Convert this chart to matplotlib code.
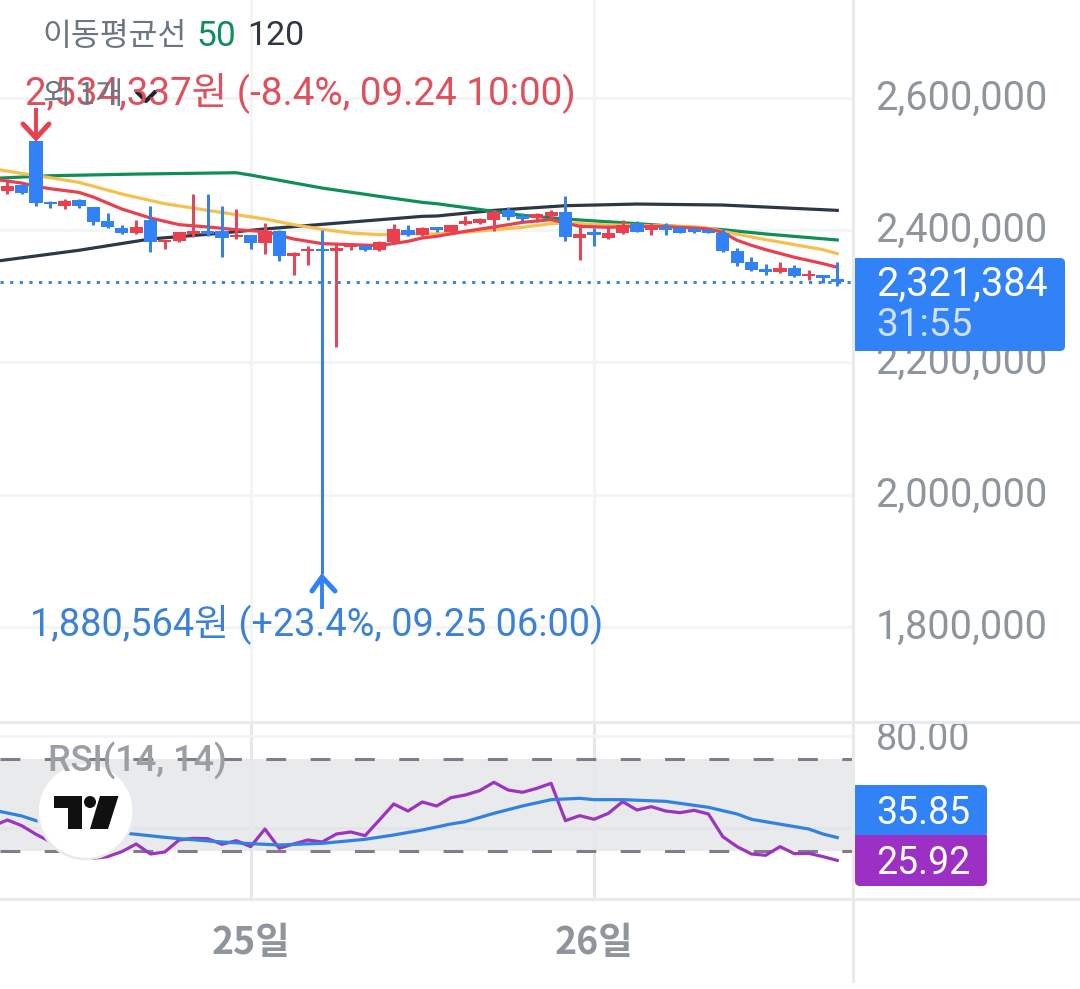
import matplotlib
matplotlib.use('Agg')
import matplotlib.pyplot as plt
from matplotlib.patches import Circle, FancyBboxPatch, Polygon, Rectangle
from matplotlib.transforms import ScaledTranslation

plt.rcParams['font.family'] = ['Roboto', 'Noto Sans CJK KR', 'DejaVu Sans']

first_idx = -2
opens = [2459640, 2467689, 2534337, 2443037, 2437000, 2445050, 2434988, 2413858, 2403796, 2395243,
         2415870, 2381659, 2383168, 2394740, 2398765, 2398765, 2389709, 2392224, 2380150, 2398261,
         2360529, 2368075, 2372100, 2368075, 2374616, 2376628, 2369585, 2381659, 2400777, 2392224,
         2404790, 2397746, 2408815, 2410324, 2414852, 2429945, 2420889, 2418877, 2420889, 2427429,
         2388691, 2396740, 2388187, 2395231, 2409318, 2399759, 2404790, 2402777, 2402274, 2400765,
         2395734, 2368063, 2352467, 2341399, 2336368, 2342908, 2330331, 2331840, 2326306]
closes = [2467186, 2455615, 2440522, 2439013, 2444547, 2435994, 2412348, 2404299, 2395243, 2404802,
          2382162, 2385684, 2397255, 2398765, 2394740, 2387696, 2392727, 2380150, 2398261, 2360529,
          2365560, 2372100, 2368075, 2373106, 2379647, 2369585, 2381659, 2401783, 2392224, 2403292,
          2400765, 2407808, 2413342, 2416864, 2427932, 2419883, 2416864, 2423908, 2426926, 2389194,
          2394225, 2393218, 2395734, 2408311, 2397746, 2404790, 2400765, 2395734, 2396740, 2395734,
          2368063, 2349952, 2339387, 2336368, 2343412, 2330331, 2333853, 2327815, 2321384]
highs = [2473726, 2469702, 2534337, 2444547, 2447565, 2447062, 2434988, 2426435, 2408323, 2415870,
         2437000, 2385684, 2397758, 2455112, 2455112, 2437000, 2432472, 2393230, 2411342, 2400777,
         2367069, 2375622, 2400777, 2379647, 2380653, 2377634, 2383672, 2409330, 2408323, 2404299,
         2405293, 2408311, 2420889, 2418373, 2430951, 2434976, 2425920, 2425920, 2430951, 2452081,
         2405796, 2403280, 2408311, 2415858, 2414349, 2410827, 2410827, 2405796, 2404790, 2402274,
         2401771, 2373094, 2359511, 2348946, 2352467, 2347939, 2340393, 2332846, 2352467]
lows = [2455112, 2455112, 2435994, 2433982, 2432472, 2433982, 2408323, 2403796, 2394740, 2394740,
        2367572, 2372100, 2381659, 2389709, 2390715, 2360026, 2386187, 2372100, 2364554, 2353989,
        2332858, 2347951, 1880564, 2222680, 2369585, 2369082, 2368075, 2380653, 2391721, 2391721,
        2396740, 2397243, 2408311, 2408815, 2398249, 2414852, 2413846, 2412839, 2418373, 2383156,
        2355486, 2375610, 2387181, 2394728, 2396740, 2393218, 2392212, 2395231, 2396237, 2395231,
        2367560, 2346430, 2338884, 2332846, 2335362, 2328822, 2324294, 2320269, 2315238]

ma_red_x = [-3, -1, 0, 1, 3, 4, 6, 8, 10, 12, 14, 16, 18, 20, 22, 24, 26, 27,
            28, 30, 32, 34, 36, 37, 38, 40, 42, 44, 46, 47, 48, 49, 50, 51, 53, 55, 56]
ma_red = [2477248, 2471211, 2466180, 2462658, 2457124, 2450081, 2431969, 2418385, 2408323, 2404802,
          2400777, 2397758, 2386690, 2379647, 2378137, 2376628, 2383168, 2388200,
          2390703, 2398249, 2404790, 2411833, 2415858, 2410827, 2405796, 2404287, 2405796, 2405293,
          2403280, 2401771, 2396740, 2384666, 2377119, 2370579, 2359008, 2349449, 2343915]
ma_yellow_x = [-3, -1, 1, 3, 6, 9, 12, 14, 16, 18, 20, 22, 24, 26,
               28, 30, 32, 34, 36, 37, 38, 40, 42, 44, 46, 47, 48, 50, 51, 53, 55, 56]
ma_yellow = [2492844, 2485801, 2479261, 2472217, 2454609, 2440019, 2429957, 2423416, 2416876, 2408323,
             2401280, 2395746, 2393230, 2394740,
             2394225, 2396740, 2400765, 2404287, 2409821, 2410827, 2409821, 2407808, 2407305, 2406299,
             2405293, 2402777, 2398249, 2389697, 2385672, 2378125, 2370579, 2364542]
ma50_x = [-3, 1, 7, 14, 15, 20, 24, 27, 28, 32, 34, 37, 42, 48, 51, 56]
ma50 = [2478254, 2482279, 2484795, 2486807, 2483285, 2463664, 2451087, 2442031,
        2440007, 2428435, 2422398, 2416864, 2409821, 2400765, 2394225, 2385169]
ma120_x = [-3, 3, 8, 12, 16, 20, 27, 28, 32, 37, 42, 48, 51, 56]
ma120 = [2352479, 2369585, 2386690, 2393734, 2401783, 2408827, 2420901,
         2421392, 2429945, 2436988, 2439504, 2437994, 2434976, 2429945]

rsi_x = list(range(-3, 57))
rsi = [40.90, 43.49, 41.02, 37.26, 34.07, 30.45, 28.27, 26.82, 27.55, 29.72,
       33.05, 28.71, 29.58, 34.79, 35.52, 35.37, 32.91, 34.50, 31.90, 39.57,
       31.17, 33.05, 34.79, 33.92, 37.40, 38.27, 36.68, 43.49, 50.44, 47.40,
       51.31, 49.57, 53.19, 54.35, 56.24, 59.86, 56.53, 55.51, 57.25, 59.43,
       43.20, 45.37, 43.78, 46.38, 51.46, 47.83, 49.28, 47.40, 46.67, 47.69,
       46.09, 36.24, 31.90, 28.71, 28.13, 31.90, 28.85, 29.00, 27.55, 25.92]
sig_x = [-3, -1, 0, 3, 7, 9, 10, 13, 15, 17, 20, 23, 25, 27, 29, 30, 32, 34, 36, 38, 39, 41,
         44, 47, 49, 50, 54, 55, 56]
sig = [47.83, 45.23, 43.20, 39.86, 37.26, 35.95, 35.37, 33.92, 33.20, 32.62, 33.34, 35.08, 36.97,
       39.14, 41.75, 42.76, 46.38, 49.57, 52.33, 52.91, 52.33, 52.33, 51.60, 48.99, 46.09, 43.78,
       39.57, 37.40, 35.85]

price_ticks = [1800000, 2000000, 2200000, 2400000, 2600000]
rsi_ticks = [80, 40]
day_ticks = [15, 39]
day_labels = ['25일', '26일']
last_price = 2321384

RED = '#e8404f'
BLUE = '#3182f6'
GRID = '#f3f4f6'
SEP = '#e8eaec'
AXTXT = '#8f959d'
KR = ['Noto Sans CJK KR', 'DejaVu Sans']

W, H = 1080, 989
fig = plt.figure(figsize=(W / 100, H / 100), dpi=100)
ax1 = fig.add_axes([0, 1 - 722 / H, 853 / W, 722 / H])
ax2 = fig.add_axes([0, 1 - 898 / H, 853 / W, 176 / H])
xlim = (-2.517, 57.1)

# price panel
ax1.set_xlim(*xlim)
ax1.set_ylim(1656600, 2747900)
for p in price_ticks:
    ax1.axhline(p, color=GRID, lw=2.2, zorder=1)
for d in day_ticks:
    ax1.axvline(d, color=GRID, lw=2.2, zorder=1)
ax1.plot(ma120_x, ma120, color='#2e3746', lw=2.3, zorder=2)
ax1.plot(ma50_x, ma50, color='#0e8f5a', lw=2.3, zorder=2)
ax1.plot(ma_yellow_x, ma_yellow, color='#f6c04e', lw=2.3, zorder=2)
ax1.plot(ma_red_x, ma_red, color=RED, lw=2.3, zorder=2)
ax1.axhline(last_price, color='#3b82d6', lw=2.1, ls=(0, (1.1, 2.2)), zorder=2)
for n in range(len(opens)):
    x = first_idx + n
    col = RED if closes[n] >= opens[n] else BLUE
    wick = '#dc4a5c' if col == RED else '#3a80dc'
    ax1.vlines(x, lows[n], highs[n], color=wick, lw=2.2, zorder=3)
    ax1.bar(x, abs(closes[n] - opens[n]), bottom=min(opens[n], closes[n]), width=0.92,
            color=col, zorder=4)
ax1.yaxis.tick_right()
ax1.set_yticks(price_ticks)
ax1.set_yticklabels([f'{p:,}' for p in price_ticks])
ax1.set_xticks([])
ax1.tick_params(axis='y', length=0, pad=17, labelsize=28.5, labelcolor=AXTXT)
for s in ax1.spines.values():
    s.set_visible(False)
up3 = ScaledTranslation(-1 / 100, 4 / 100, fig.dpi_scale_trans)
for lab in ax1.get_yticklabels():
    lab.set_transform(lab.get_transform() + up3)

# rsi panel
ax2.set_xlim(*xlim)
ax2.set_ylim(9.57, 86.09)
ax2.axhspan(30, 70, color='#e9eaec', lw=0, zorder=1)
for r in rsi_ticks:
    ax2.axhline(r, color='#e2e4e7', lw=2, zorder=1.5)
ax2.axhline(80, color=GRID, lw=2.2, zorder=2)
for d in day_ticks:
    ax2.axvline(d, color='#e6e7ea', lw=2.2, zorder=1.5)
for r in [30, 70]:
    ax2.axhline(r, color='#7d7e87', lw=2.2, ls=(0, (6.5, 8)), zorder=2)
ax2.plot(rsi_x, rsi, color='#9c34bf', lw=2.3, zorder=3)
ax2.plot(sig_x, sig, color='#3182e0', lw=2.3, zorder=3)
ax2.yaxis.tick_right()
ax2.set_yticks([80])
ax2.set_yticklabels(['80.00'])
ax2.tick_params(axis='y', length=0, pad=17, labelsize=27, labelcolor=AXTXT)
for lab in ax2.get_yticklabels():
    lab.set_transform(lab.get_transform() + ScaledTranslation(-1 / 100, 1 / 100, fig.dpi_scale_trans))
ax2.set_xticks(day_ticks)
ax2.set_xticklabels(day_labels, family=KR, fontweight='bold', fontsize=27, color=AXTXT)
ax2.tick_params(axis='x', length=0, pad=18)
for s in ax2.spines.values():
    s.set_visible(False)

# overlay in pixels for the chart's chrome
ov = fig.add_axes([0, 0, 1, 1], zorder=10)
ov.set_xlim(0, W)
ov.set_ylim(H, 0)
ov.axis('off')

ov.plot([0, W], [722, 722], color=SEP, lw=2.2)
ov.plot([0, W], [898.5, 898.5], color=SEP, lw=2.2)
ov.plot([853, 853], [0, 981], color=SEP, lw=2.2)

# high / low markers and their notes
ov.text(25, 93, '2,534,337원 (-8.4%, 09.24 10:00)', color='#e0505c', fontsize=27.8, va='center',
        family=['Roboto'] + KR)
ov.add_patch(Rectangle((38, 72), 122, 40, color='white', alpha=0.62, lw=0))
ov.text(43, 96, '외 1개', color='#6b7682', fontsize=22, va='center', family=KR)
ov.plot([137, 146, 155], [92, 101, 92], color='#1f2530', lw=3, solid_capstyle='round')
ov.plot([36, 36], [110, 136], color=RED, lw=2.8)
ov.plot([23, 36, 49], [124, 138, 124], color=RED, lw=3.6, solid_capstyle='round',
        solid_joinstyle='miter')
ov.plot([322, 322], [577, 607], color=BLUE, lw=2.8)
ov.plot([312, 322, 335], [591, 577, 591], color=BLUE, lw=3.6, solid_capstyle='round',
        solid_joinstyle='miter')
ov.text(30, 625, '1,880,564원 (+23.4%, 09.25 06:00)', color='#3b82d6', fontsize=27.3, va='center',
        family=['Roboto'] + KR)

# legend row
ov.text(42, 36, '이동평균선', color='#6b7682', fontsize=22.6, va='center', family=KR)
ov.text(196, 36, '50', color='#0e8f5a', fontsize=25.5, va='center')
ov.text(247, 36, '120', color='#2e3746', fontsize=24.5, va='center')

# price and rsi tags
ov.add_patch(FancyBboxPatch((859, 262), 202, 85, boxstyle='round,pad=4,rounding_size=5', color=BLUE, lw=0))
ov.add_patch(Rectangle((855, 258), 10, 93, color=BLUE, lw=0))
ov.text(876, 284, f'{last_price:,}', color='white', fontsize=28.5, va='center')
ov.text(876, 326, '31:55', color='#cfe0fb', fontsize=28, va='center')
ov.add_patch(FancyBboxPatch((859, 789), 124, 44, boxstyle='round,pad=4,rounding_size=5', color=BLUE, lw=0))
ov.add_patch(Rectangle((855, 785), 10, 52, color=BLUE, lw=0))
ov.add_patch(FancyBboxPatch((859, 839), 124, 43, boxstyle='round,pad=4,rounding_size=5', color='#9c2fc4', lw=0))
ov.add_patch(Rectangle((855, 835), 132, 10, color='#9c2fc4', lw=0))
ov.text(876, 813, '35.85', color='white', fontsize=27, va='center')
ov.text(876, 863, '25.92', color='white', fontsize=27, va='center')

# rsi title and logo
ov.text(48, 761, 'RSI(14, 14)', color='#9b9ea3', fontsize=26, va='center', fontweight='medium')
ov.add_patch(Circle((85.7, 811), 48, facecolor='white', edgecolor='#e9eaec', lw=1.8))
ov.add_patch(Polygon([(54, 796), (82, 796), (82, 829), (68, 829), (68, 808), (54, 808)], color='#101010', lw=0))
ov.add_patch(Circle((90, 802), 6, color='#101010', lw=0))
ov.add_patch(Polygon([(100, 796), (118.5, 796), (108, 829), (90, 829)], color='#101010', lw=0))

fig.savefig('out.png', dpi=100)
